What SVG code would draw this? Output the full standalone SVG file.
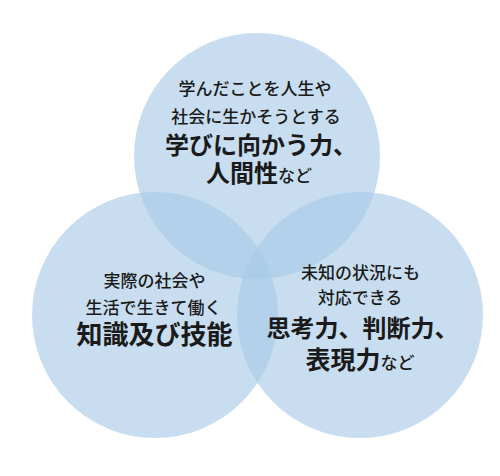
<svg xmlns="http://www.w3.org/2000/svg" width="500" height="476" viewBox="0 0 500 476">
<style>
.c{fill:rgb(166,201,230);fill-opacity:0.62}
text{font-family:"Noto Sans CJK JP","Noto Sans",sans-serif;fill:#1a1a1a;text-anchor:middle}
.s{font-size:17px;font-weight:500}
.b{font-size:24px;font-weight:700}
.n{font-size:17px;font-weight:500}
</style>
<rect width="500" height="476" fill="#ffffff"/>
<g id="top">
<circle class="c" cx="257" cy="156" r="123"/>
</g>
<g id="left">
<circle class="c" cx="155" cy="315" r="123"/>
</g>
<g id="right">
<circle class="c" cx="360" cy="315" r="123"/>
</g>
<g id="top-text">
<text class="s" x="255" y="94.5">学んだことを人生や</text>
<text class="s" x="256" y="122.5">社会に生かそうとする</text>
<text class="b" x="261" y="154">学びに向かう力、</text>
<text class="b" x="259" y="182">人間性<tspan class="n">など</tspan></text>
</g>
<g id="left-text">
<text class="s" x="154.5" y="286.5">実際の社会や</text>
<text class="s" x="153.5" y="313.5">生活で生きて働く</text>
<text class="b" x="154.5" y="344" style="font-size:26px">知識及び技能</text>
</g>
<g id="right-text">
<text class="s" x="360.5" y="278.5">未知の状況にも</text>
<text class="s" x="360" y="303.5">対応できる</text>
<text class="b" x="362.5" y="337">思考力、判断力、</text>
<text class="b" x="360" y="369" style="font-size:25px">表現力<tspan class="n">など</tspan></text>
</g>
</svg>
